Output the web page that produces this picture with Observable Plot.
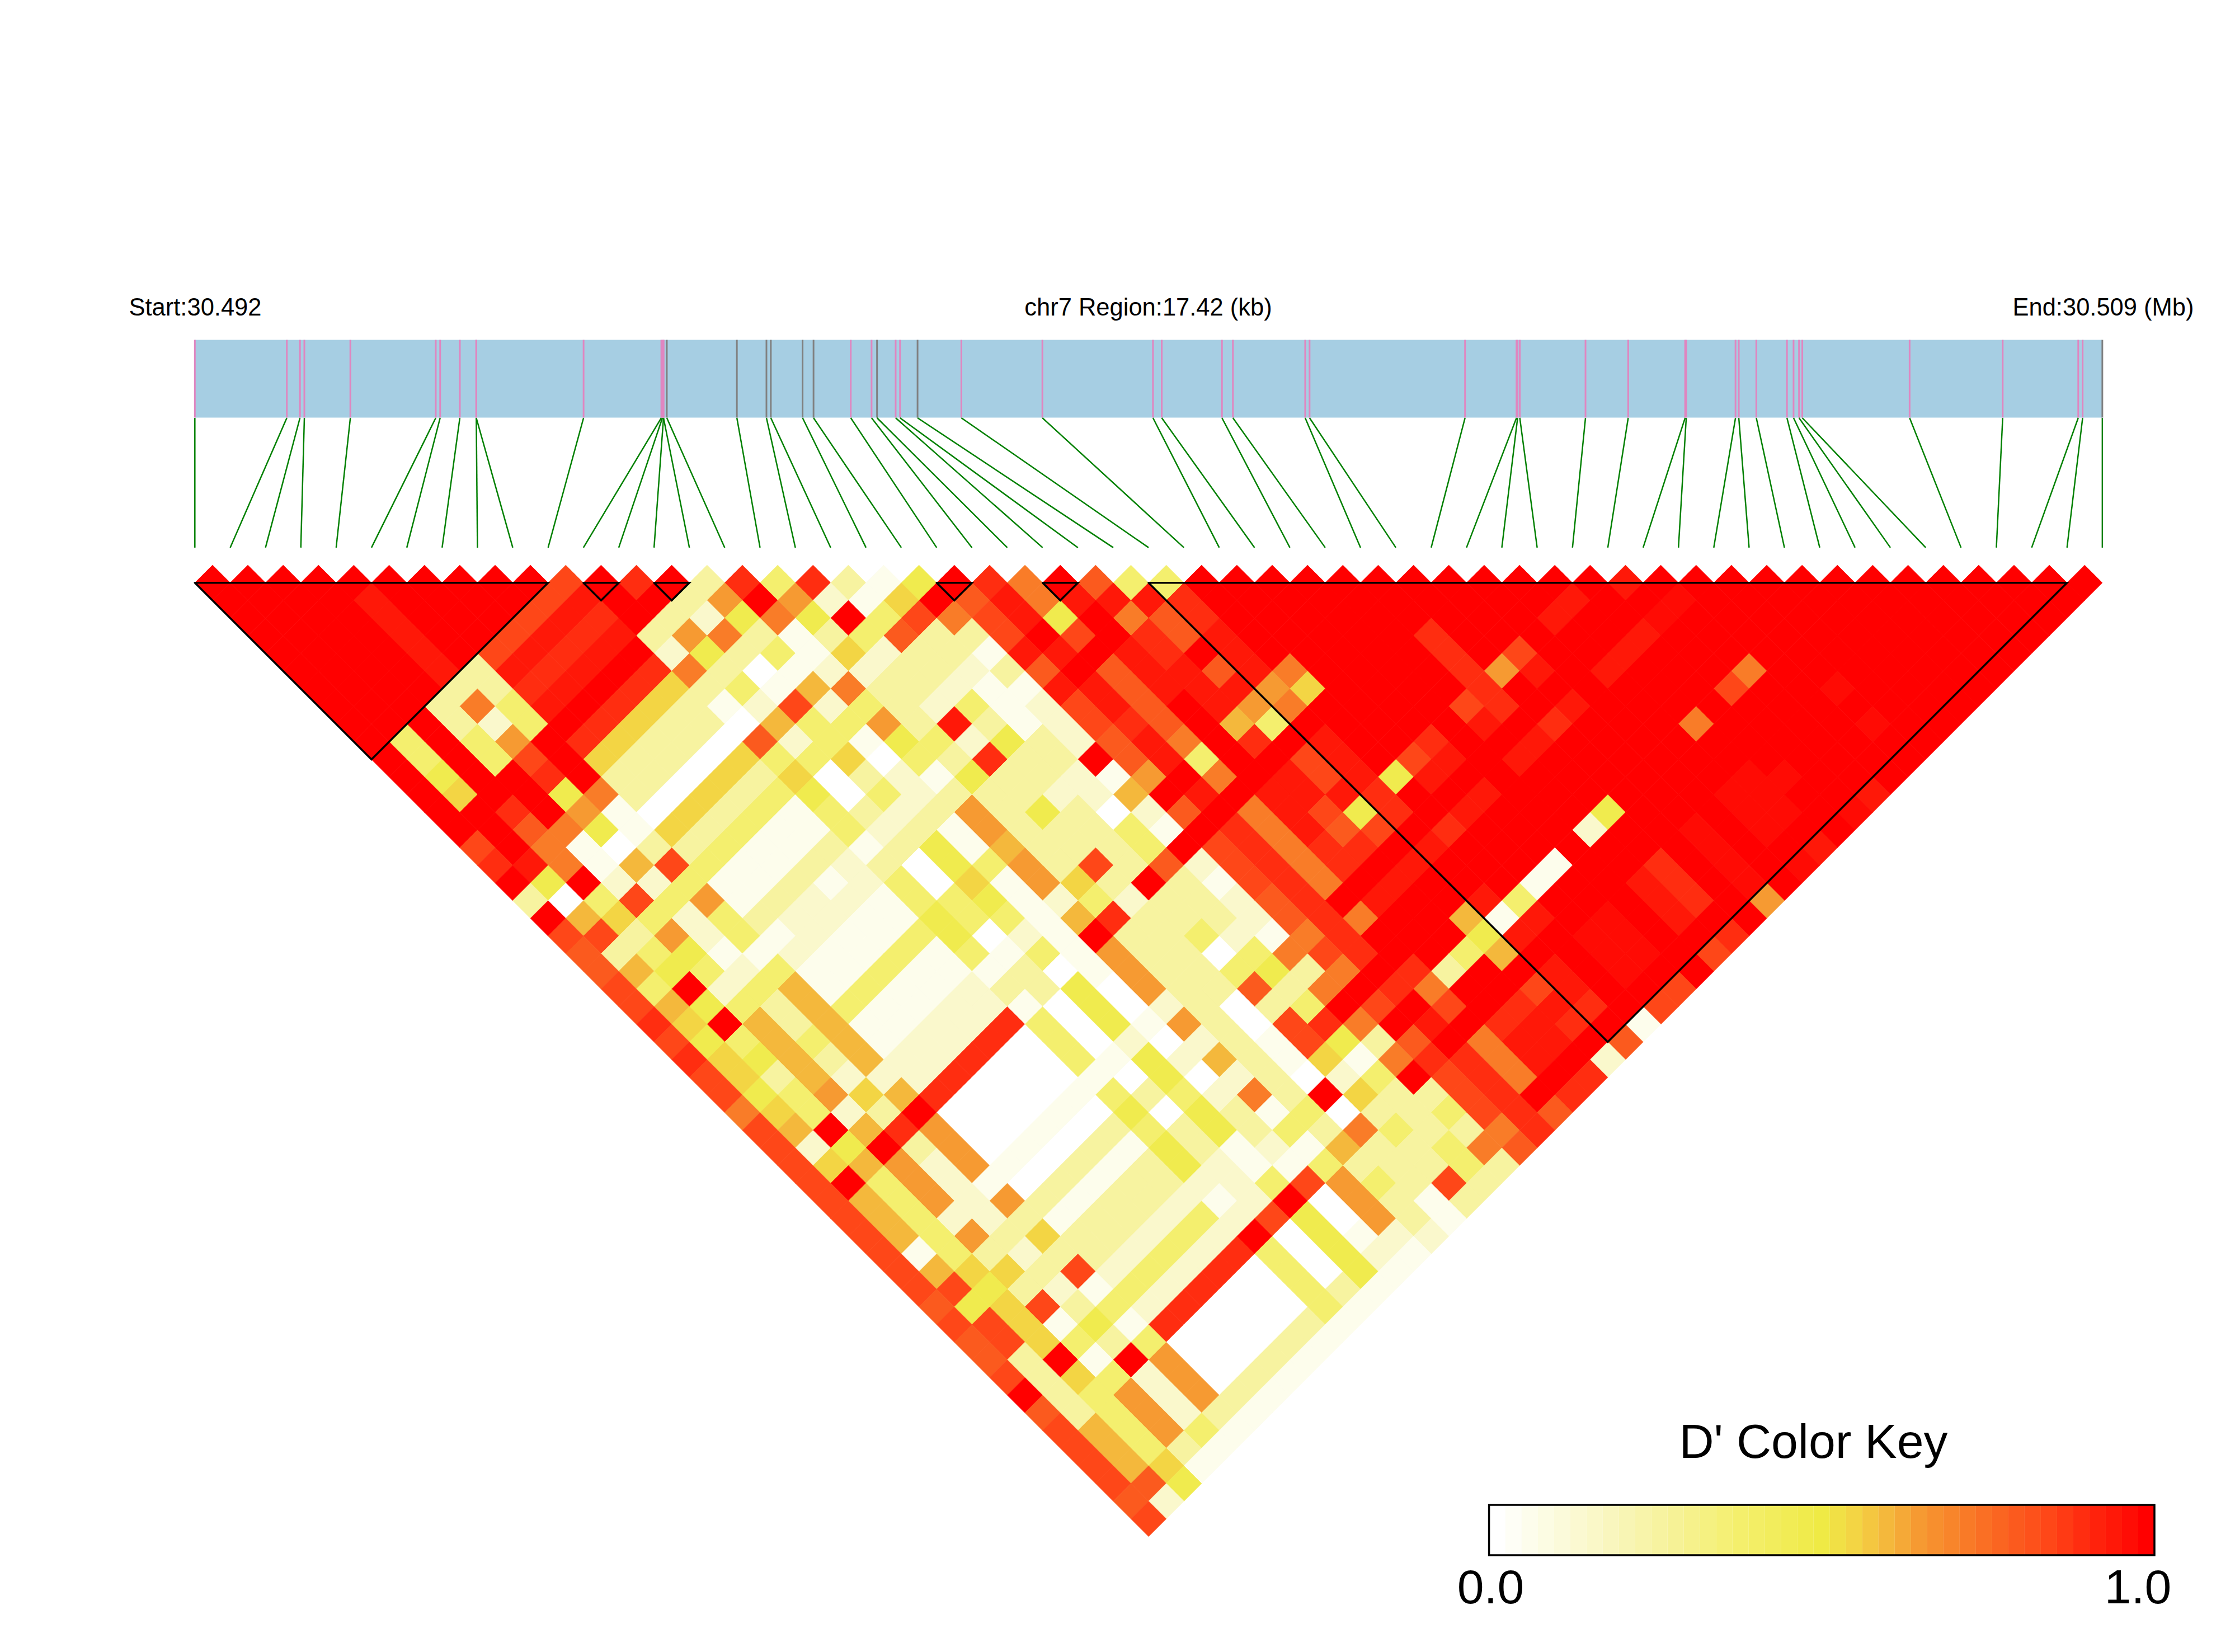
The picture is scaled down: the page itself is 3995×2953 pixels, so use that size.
<!DOCTYPE html>
<html>
<head>
<meta charset="utf-8">
<script src="https://cdn.jsdelivr.net/npm/d3@7"></script>
<script src="https://cdn.jsdelivr.net/npm/@observablehq/plot@0.6"></script>
<style>
  html, body { margin: 0; padding: 0; background: #fff; }
  svg { display: block; }
</style>
</head>
<body>
<div id="chart"></div>
<script>
// Physical SNP positions along the region (kb from start)
const regionKb = 17.42;
const snpPositionsKb = [
  0, 0.84, 0.96, 1.00, 1.42, 2.20, 2.24, 2.42, 2.57, 2.57,
  3.55, 4.26, 4.27, 4.28, 4.28, 4.31, 4.95, 5.22, 5.26, 5.55,
  5.65, 5.99, 6.18, 6.23, 6.40, 6.44, 6.60, 7.00, 7.74, 8.75,
  8.83, 9.38, 9.48, 10.14, 10.18, 11.60, 12.07, 12.08, 12.10, 12.70,
  13.09, 13.61, 13.62, 14.07, 14.10, 14.26, 14.54, 14.60, 14.65, 14.68,
  15.66, 16.51, 17.20, 17.24, 17.42
];
// SNPs whose tick in the gene bar is grey rather than pink
const greyTicks = [15, 16, 17, 18, 19, 20, 23, 26, 54];
// Haplotype blocks [first SNP, last SNP]
const blocks = [[0, 10], [11, 12], [13, 14], [21, 22], [24, 25], [27, 53]];

// D' levels
const levels = {
  ".": 0, a: 0.05, b: 0.14, c: 0.25, d: 0.37, e: 0.47, f: 0.55, g: 0.6,
  h: 0.65, i: 0.72, j: 0.8, k: 0.85, l: 0.9, m: 0.95, o: 0.98, n: 1
};
// One string per row of the triangle (SNP distance 1, 2, ...), one letter per pair
const rowsByDistance = [
  "nnnnnnnnnn knlncldlca enlinjddnn nnnnnnnnnn mnnnnnnnnn nnnn",
  "nnnnmnnnnk mnnchnhbaf njmimmmlnn nnnnnnnnmn nonnnnnnnn nnn",
  "nnnnmnnnkm lncbeiendk ikmenijlnn nnnnnnnmnn onnnnnnnnn nn",
  "nnnnmnnkml mchicacdjc cknknljmnn nnnlnnnnnm nnnnnnnnnn n",
  "nnnnmnkmlm nbecdafbcc ammnmlnmnn nnnlnknnmn nnnnnnnnnn",
  "nnnnmcmlmn lic.abbccb cjnjmmjmin nnnlhmnmnn ninnnnnnn",
  "nnnncclmnl fcdagiccba ammjmmmhfn nnnlnnnnnn knnonnnn",
  "nnncidmnlf cabkbdcbda bkmjnmhinn nnklnmnnnn nnnnnnn",
  "nnncbdnlfc c.gddhcmca bkljngdnnn nnmnlnnnin nnnonn",
  "ndndhnlfcc .jbdaedbec bjminlnmnn lnnmnnnnnn nnnnn",
  "ndndknfcc. fddf.dclcc njmdnnkmnk mnmnnnnnnn nnnn",
  "nennlncc.f cf.cbaeccb ahninmkmem nnnnnnnnoo nnn",
  "nfnneic.fc de.dbcccbb gnmnmmmlnn mnnnnnnoon nm",
  "nnlnha.fcd adcbchcec. bjnimkelnm nnnennnoon o",
  "nnjieafcda adbcahcccd anlimjknln nnbnnononn",
  "knia.ccdaa caceagcccd nklillnmnn nnnnnonnm",
  "lmiagkdaac bc.edhckcj bklilnmnnn annlnono",
  "nenbbdaaca bd.fahfcnc aklinmnnna nnmlnon",
  "c.dkdhacbb addeabdbcc bjlnmnnmdn nnmlnh",
  "ngfdbdcbba aeddaglccc bjlinngamn onmnn",
  "kkchbdabaa de.banccdb ailnnnemno onnl",
  "jcdeaabaad adadahcc.d iklnndgnno onk",
  "jgedbdaada aac.ahccde cinlcnnmno nn",
  "kdnbdgadaa bcce.hccjc inlinnkmnn k",
  "kgedcgdaab ba.e.bc.cd nknknlmlnk",
  "lfngcgaabb ld.eahc.kl inmnlmlna",
  "kedgdgabbl .d.b.bcake cjnimmnj",
  "lfegcgbbl. .daebgcafa illimnb",
  "kfcgbbbl.. .a.e.bc.bd nklinl",
  "kedhfgl... adcdbicnfc cklnl",
  "ifdbcn...a .e.ecad.cc dklj",
  "kgnglh..a. cdcecdcidc cil",
  "kbench.a.c aecabagccd ij",
  "kfghbha.ca cebaadcccd c",
  "kndhba.cac cbbdkhdckc",
  "kgdhbhcacc babn.hcac",
  "kgdbbcaccb dbke.hca",
  "kgdhcfccbd bn.eabb",
  "kadcbccbdb ld.eba",
  "kgffckbdbl .d.ea",
  "kkecbadbl. .dca",
  "jefkcdbl.. .da",
  "kkfaeal... ca",
  "jkfdcd...c a",
  "jcnanh..ca",
  "kcfdbh.ca",
  "ncdhbhca",
  "jcdhbca",
  "kgdhda",
  "kgdca",
  "kgfa",
  "kje",
  "jb",
  "k"
];

// Colour key ramp
const rampStops = [0, 0.05, 0.14, 0.25, 0.37, 0.5, 0.55, 0.6, 0.65, 0.72, 0.8, 0.85, 0.9, 0.95, 0.98, 1];
const rampColors = ["#ffffff", "#fdfdec", "#faf8cc", "#f7f3a0", "#f4ef6e", "#efea45", "#f3d544", "#f4b83c",
                    "#f69a32", "#f97c28", "#fb5a1e", "#fe4718", "#ff2d10", "#ff1808", "#ff0b04", "#ff0000"];
const keyBins = d3.range(41);

const W = 3995, H = 2953;
const stepX = 63.14, stepY = 31.57, originX = 347.8, originY = 1009.7;
// Page pixels to the chart's own units, for the furniture around the triangle
const ux = p => (p - originX) / stepX;
const uy = p => (p - originY) / stepY;
const kbToSnp = kb => kb / regionKb * 54;

const cells = rowsByDistance.flatMap((row, r) => {
  const d = r + 1;
  return Array.from(row.replace(/ /g, ""), (ch, i) => ({x: i + d / 2, y: d, v: levels[ch]}));
});
const snps = snpPositionsKb.map((kb, i) => ({i, pos: kbToSnp(kb), grey: greyTicks.includes(i)}));
const outlines = blocks.flatMap(([a, b], z) => [
  {x: a, y: 1, z}, {x: b, y: 1, z}, {x: (a + b) / 2, y: 1 + b - a, z}, {x: a, y: 1, z}
]);

const diamond = {
  draw(c, size) {
    const r = Math.sqrt(size / Math.PI);
    c.moveTo(0, -r); c.lineTo(r, 0); c.lineTo(0, r); c.lineTo(-r, 0); c.closePath();
  }
};

const font = "'Liberation Sans', Arial, sans-serif";
const barTop = uy(607.5), barBottom = uy(746.5), fanBottom = uy(978.4), labelY = uy(563);
const keyLeft = ux(2661.6), keyRight = ux(3851), keyTop = uy(2690), keyBottom = uy(2780);
const keyAt = f => keyLeft + f * (keyRight - keyLeft);

const plot = Plot.plot({
  width: W, height: H,
  marginTop: 0, marginRight: 0, marginBottom: 0, marginLeft: 0,
  style: {background: "#fff"},
  x: {domain: [ux(0), ux(W)], range: [0, W], axis: null},
  y: {domain: [uy(0), uy(H)], range: [0, H], axis: null},
  color: {type: "linear", domain: rampStops, range: rampColors, interpolate: "rgb"},
  marks: [
    // gene bar
    Plot.rect([0], {x1: 0, x2: 54, y1: barTop, y2: barBottom, fill: "#a6cee3"}),
    Plot.ruleX(snps.filter(d => !d.grey), {x: "pos", y1: barTop, y2: barBottom, stroke: "#e086c0", strokeWidth: 3}),
    Plot.ruleX(snps.filter(d => d.grey), {x: "pos", y1: barTop, y2: barBottom, stroke: "#808080", strokeWidth: 3}),
    // fan from physical position to matrix position
    Plot.link(snps, {x1: "pos", y1: barBottom, x2: "i", y2: fanBottom, stroke: "#008000", strokeWidth: 2.5}),
    // D' triangle: the same-colour hairline closes the anti-aliased seams between cells
    Plot.dot(cells, {x: "x", y: "y", fill: "v", stroke: "v", strokeWidth: 0.8, r: stepY, symbol: diamond}),
    // haplotype blocks
    Plot.line(outlines, {x: "x", y: "y", z: "z", stroke: "#000", strokeWidth: 3.5, strokeLinejoin: "miter", strokeMiterlimit: 10}),
    // header texts
    Plot.text(["Start:30.492"], {x: ux(230), y: labelY, text: d => d, textAnchor: "start", lineAnchor: "bottom", fontSize: 43.5, fontFamily: font, fill: "#000"}),
    Plot.text(["chr7 Region:17.42 (kb)"], {x: ux(2052), y: labelY, text: d => d, textAnchor: "middle", lineAnchor: "bottom", fontSize: 43.5, fontFamily: font, fill: "#000"}),
    Plot.text(["End:30.509 (Mb)"], {x: ux(3921), y: labelY, text: d => d, textAnchor: "end", lineAnchor: "bottom", fontSize: 43.5, fontFamily: font, fill: "#000"}),
    // colour key
    Plot.rect(keyBins, {x1: k => keyAt(k / 41), x2: k => keyAt((k + 1) / 41), y1: keyTop, y2: keyBottom, fill: k => k / 40}),
    Plot.rect([0], {x1: keyLeft, x2: keyRight, y1: keyTop, y2: keyBottom, fill: "none", stroke: "#000", strokeWidth: 3.5}),
    Plot.text(["D' Color Key"], {x: ux(3241), y: uy(2605), text: d => d, textAnchor: "middle", lineAnchor: "bottom", fontSize: 86, fontFamily: font, fill: "#000"}),
    Plot.text(["0.0"], {x: ux(2664), y: uy(2865), text: d => d, textAnchor: "middle", lineAnchor: "bottom", fontSize: 86, fontFamily: font, fill: "#000"}),
    Plot.text(["1.0"], {x: ux(3821), y: uy(2865), text: d => d, textAnchor: "middle", lineAnchor: "bottom", fontSize: 86, fontFamily: font, fill: "#000"})
  ]
});
document.getElementById("chart").append(plot);
</script>
</body>
</html>
